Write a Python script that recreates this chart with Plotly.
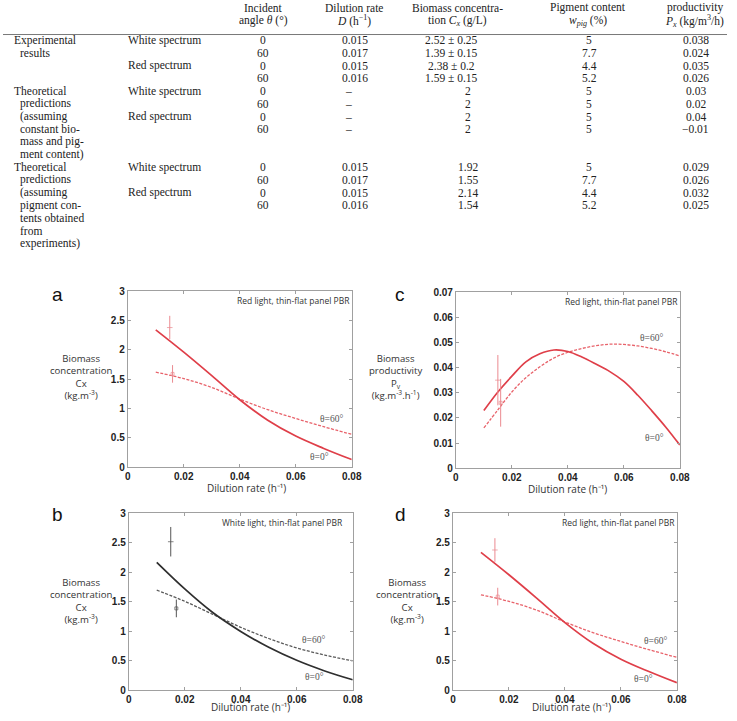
import plotly.graph_objects as go

W, H = 737, 721

# ---------------- Table data ----------------
HEADER_TOP = ["Incident", "Dilution rate", "Biomass concentra-", "Pigment content", "productivity"]
HEADER_BOT = ["angle <i>θ</i> (°)", "<i>D</i> (h<sup>−1</sup>)", "tion <i>C<sub>x</sub></i> (g/L)",
              "<i>w<sub>pig</sub></i> (%)", "<i>P<sub>x</sub></i> (kg/m<sup>3</sup>/h)"]
GROUP_LABELS = [
    ["Experimental", "results"],
    ["Theoretical", "predictions", "(assuming", "constant bio-", "mass and pig-", "ment content)"],
    ["Theoretical", "predictions", "(assuming", "pigment con-", "tents obtained", "from", "experiments)"],
]
GROUP_START_ROW = [0, 4, 10]
SPECTRA = ["White spectrum", "Red spectrum"]
ANGLES = ["0", "60", "0", "60"]
DILUTION = [["0.015", "0.017", "0.015", "0.016"], ["–", "–", "–", "–"], ["0.015", "0.017", "0.015", "0.016"]]
BIOMASS = [["2.52 ± 0.25", "1.39 ± 0.15", "2.38 ± 0.2", "1.59 ± 0.15"], ["2", "2", "2", "2"],
           ["1.92", "1.55", "2.14", "1.54"]]
PIGMENT = [["5", "7.7", "4.4", "5.2"], ["5", "5", "5", "5"], ["5", "7.7", "4.4", "5.2"]]
PRODUCTIVITY = [["0.038", "0.024", "0.035", "0.026"], ["0.03", "0.02", "0.04", "−0.01"],
                ["0.029", "0.026", "0.032", "0.025"]]

# ---------------- Chart data ----------------
D_COARSE = [0.01, 0.02, 0.03, 0.04, 0.05, 0.06, 0.07, 0.08]
D_FINE = [0.010, 0.015, 0.020, 0.025, 0.030, 0.035, 0.040, 0.045, 0.050, 0.055, 0.060, 0.065, 0.070, 0.075, 0.080]

RED_CX_0 = [2.34, 1.96, 1.56, 1.15, 0.80, 0.53, 0.32, 0.13]
RED_CX_60 = [1.62, 1.51, 1.36, 1.16, 0.98, 0.83, 0.69, 0.56]
WHITE_CX_0 = [2.17, 1.72, 1.32, 1.00, 0.73, 0.51, 0.33, 0.18]
WHITE_CX_60 = [1.70, 1.51, 1.29, 1.07, 0.88, 0.72, 0.60, 0.50]
RED_PV_0 = [0.0229, 0.0303, 0.0366, 0.0423, 0.0455, 0.0470, 0.0464, 0.0442, 0.0414, 0.0384, 0.0345,
            0.0290, 0.0228, 0.0163, 0.0092]
RED_PV_60 = [0.0160, 0.0232, 0.0303, 0.0360, 0.0403, 0.0438, 0.0461, 0.0476, 0.0487, 0.0493, 0.0492,
             0.0486, 0.0476, 0.0463, 0.0446]

EXP_RED_D = [0.015, 0.016]
EXP_RED_CX = [2.38, 1.59]
EXP_RED_CX_ERR = [0.2, 0.15]
EXP_WHITE_D = [0.015, 0.017]
EXP_WHITE_CX = [2.52, 1.39]
EXP_WHITE_CX_ERR = [0.25, 0.15]
EXP_RED_PV = [0.035, 0.026]
EXP_RED_PV_ERR = [0.010, 0.0095]


def px(x):
    return x / W


def py(y):
    return 1 - y / H


SERIF = "Liberation Serif"
SANS = "Open Sans"
annotations = []
shapes = []


def txt(x, y, s, size=11.5, family=SERIF, xanchor="center", color="#222", yanchor="middle", **kw):
    annotations.append(dict(x=px(x), y=py(y), xref="paper", yref="paper", text=s, showarrow=False,
                            xanchor=xanchor, yanchor=yanchor, borderpad=0,
                            font=dict(family=family, size=size, color=color), **kw))


# ---------------- Table ----------------
COL_X = [265, 357, 463, 596, 704]
for i in range(5):
    txt(COL_X[i], 2, HEADER_TOP[i])
    txt(COL_X[i], 15, HEADER_BOT[i])
shapes.append(dict(type="line", xref="paper", yref="paper", x0=0, x1=1, y0=py(29), y1=py(29),
                   line=dict(color="#555", width=0.8)))


def row_y(k):
    return 35 + 12.9 * k


for g, lines in enumerate(GROUP_LABELS):
    s = GROUP_START_ROW[g]
    for j, line in enumerate(lines):
        txt(10 if j == 0 else 16, row_y(s + j), line, xanchor="left")
    txt(126, row_y(s), SPECTRA[0], xanchor="left")
    txt(126, row_y(s + 2), SPECTRA[1], xanchor="left")
    for r in range(4):
        y = row_y(s + r)
        txt(265, y, ANGLES[r])
        d = DILUTION[g][r]
        txt(358 if d != "–" else 352, y, d)
        b = BIOMASS[g][r]
        txt(457 if "±" in b else 473, y, b)
        txt(597, y, PIGMENT[g][r])
        txt(705, y, PRODUCTIVITY[g][r])

# ---------------- Charts ----------------
PANELS = {
    "a": dict(x0=127, x1=355, y0=290, y1=469),
    "c": dict(x0=461, x1=689, y0=291, y1=470),
    "b": dict(x0=128, x1=356, y0=516, y1=696),
    "d": dict(x0=458, x1=686, y0=516, y1=696),
}
ORDER = ["a", "b", "c", "d"]

RED = "#df3f49"
RED_DASH = "#e8636b"
RED_ERR = "#eb8a90"
DARK = "#2f2f2f"
DARK_DASH = "#5a5a5a"
DARK_ERR = "#555555"

fig = go.Figure()
layout_axes = {}


def axis(domain, rng, dtick, anchor):
    return dict(domain=domain, range=rng, dtick=dtick, tick0=0, showline=True, mirror="allticks",
                linecolor="#a0a0a0", linewidth=1, ticks="inside", ticklen=3, tickcolor="#a0a0a0",
                showgrid=False, zeroline=False, anchor=anchor,
                tickfont=dict(family="Liberation Sans", size=10, color="#222", weight="bold"))


for i, key in enumerate(ORDER):
    p = PANELS[key]
    n = "" if i == 0 else str(i + 1)
    xa, ya = "x" + n, "y" + n
    is_pv = key == "c"
    layout_axes["xaxis" + n] = axis([px(p["x0"]), px(p["x1"])], [0, 0.08], 0.02, ya)
    layout_axes["yaxis" + n] = axis([py(p["y1"]), py(p["y0"])], [0, 0.07] if is_pv else [0, 3],
                                    0.01 if is_pv else 0.5, xa)
    if key in ("a", "d"):
        xs, y0s, y60s = D_COARSE, RED_CX_0, RED_CX_60
        ex, ey, ee = EXP_RED_D, EXP_RED_CX, EXP_RED_CX_ERR
        c_s, c_d, c_e = RED, RED_DASH, RED_ERR
        label = "Red light, thin-flat panel PBR"
    elif key == "b":
        xs, y0s, y60s = D_COARSE, WHITE_CX_0, WHITE_CX_60
        ex, ey, ee = EXP_WHITE_D, EXP_WHITE_CX, EXP_WHITE_CX_ERR
        c_s, c_d, c_e = DARK, DARK_DASH, DARK_ERR
        label = "White light, thin-flat panel PBR"
    else:
        xs, y0s, y60s = D_FINE, RED_PV_0, RED_PV_60
        ex, ey, ee = EXP_RED_D, EXP_RED_PV, EXP_RED_PV_ERR
        c_s, c_d, c_e = RED, RED_DASH, RED_ERR
        label = "Red light, thin-flat panel PBR"

    fig.add_trace(go.Scatter(x=xs, y=y60s, mode="lines", line=dict(color=c_d, width=1.3, dash="3px,1.5px",
                                                                   shape="spline", smoothing=1.0),
                             xaxis=xa, yaxis=ya, showlegend=False))
    fig.add_trace(go.Scatter(x=xs, y=y0s, mode="lines", line=dict(color=c_s, width=1.7, shape="spline",
                                                                  smoothing=1.0),
                             xaxis=xa, yaxis=ya, showlegend=False))
    fig.add_trace(go.Scatter(x=ex, y=ey, mode="markers",
                             marker=dict(symbol=["line-ew", "square-open"], size=[4, 3], color=c_e,
                                         line=dict(color=c_e, width=1)),
                             error_y=dict(type="data", array=ee, visible=True, color=c_e, thickness=1, width=0),
                             xaxis=xa, yaxis=ya, showlegend=False))

    # theta labels
    if key == "a":
        l60, l0 = (0.0726, 0.82), (0.0685, 0.17)
    elif key == "d":
        l60, l0 = (0.0723, 0.83), (0.068, 0.20)
    elif key == "b":
        l60, l0 = (0.066, 0.85), (0.0663, 0.22)
    else:
        l60, l0 = (0.0698, 0.0516), (0.0710, 0.0121)
    for (lx, ly), s in ((l60, "θ=60°"), (l0, "θ=0°")):
        annotations.append(dict(x=lx, y=ly, xref=xa, yref=ya, text=s, showarrow=False,
                                font=dict(family=SERIF, size=9.5, color="#555")))
    # in-plot caption
    txt(p["x1"] - 118 if key != "b" else p["x1"] - 134, p["y0"] + 9, label, size=8.5, family=SANS,
        xanchor="left", color="#333")

# panel letters
for key, (lx, ly) in {"a": (55, 293), "c": (404, 293), "b": (55, 517), "d": (405, 517)}.items():
    txt(lx, ly, key, size=19, family="Liberation Sans", color="#111")

# y titles
CX_TITLE = "Biomass<br>concentration<br>Cx<br>(kg.m<sup>-3</sup>)"
PV_TITLE = "Biomass<br>productivity<br>P<sub>v</sub><br>(kg.m<sup>-3</sup>.h<sup>-1</sup>)"
for (tx, ty), s in (((79, 377), CX_TITLE), ((400, 377), PV_TITLE), ((79, 605), CX_TITLE),
                    ((411, 605), CX_TITLE)):
    txt(tx, ty, s, size=9.6, family=SANS, color="#333")

# x titles
XT = "Dilution rate (h⁻¹)"
for tx, ty in ((248, 490), (575, 491)):
    txt(tx, ty, XT, size=10, family=SANS, color="#333")
for tx in (252, 579):
    txt(tx, 721, XT, size=10, family=SANS, color="#333", yanchor="bottom")

fig.update_layout(width=W, height=H, margin=dict(l=0, r=0, t=0, b=0), paper_bgcolor="white",
                  plot_bgcolor="white", annotations=annotations, shapes=shapes, showlegend=False,
                  **layout_axes)

POST = (
    "document.documentElement.style.margin='0';document.documentElement.style.padding='0';"
    "document.documentElement.style.overflow='hidden';"
    "document.body.style.margin='0';document.body.style.padding='0';document.body.style.overflow='hidden';"
    "var d=document.getElementsByClassName('plotly-graph-div')[0];"
    "d.style.position='absolute';d.style.left='0px';d.style.top='0px';"
)
fig.write_html("out.html", config={"displayModeBar": False}, post_script=POST)
